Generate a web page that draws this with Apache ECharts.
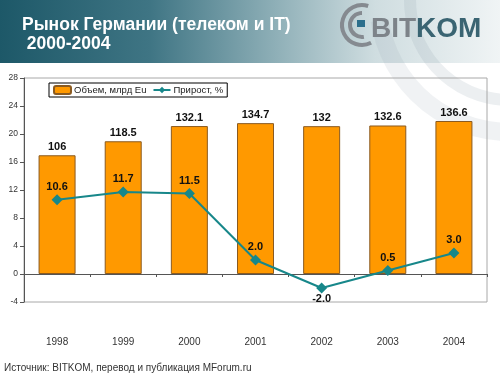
<!DOCTYPE html>
<html><head><meta charset="utf-8">
<script src="https://cdn.jsdelivr.net/npm/echarts@6/dist/echarts.min.js"></script>
<style>html,body{margin:0;padding:0;background:#fff}#c{width:500px;height:375px}</style>
</head><body><div id="c"></div>
<script>
// ---- data ----
const years = ['1998', '1999', '2000', '2001', '2002', '2003', '2004'];
const volume = [106, 118.5, 132.1, 134.7, 132, 132.6, 136.6];   // Объем, млрд Eu
const growth = [10.6, 11.7, 11.5, 2.0, -2.0, 0.5, 3.0];         // Прирост, %
const seriesNames = ['Объем, млрд Eu', 'Прирост, %'];
const titleLines = ['Рынок Германии (телеком и IT)', ' 2000-2004'];
const sourceText = 'Источник: BITKOM, перевод и публикация MForum.ru';
// left axis ticks: -4 .. 28 step 4 ; hidden bar axis uses same range scaled by 6.25
const yMin = -4, yMax = 28, yStep = 4, barScale = 6.25;

const FF = '"Liberation Sans", Arial, sans-serif';
const chart = echarts.init(document.getElementById('c'), null, {renderer: 'canvas'});

const option = {
  backgroundColor: '#fff',
  animation: false,
  textStyle: {fontFamily: FF},
  graphic: [
    {type: 'rect', z: -10, shape: {x: 0, y: 0, width: 500, height: 63},
     style: {fill: new echarts.graphic.LinearGradient(0, 0, 1, 0, [
       {offset: 0, color: '#1d5868'}, {offset: 0.3, color: '#3f7584'},
       {offset: 0.55, color: '#8eafb7'}, {offset: 0.75, color: '#cfdde0'},
       {offset: 1, color: '#f0f4f5'}])}},
    // watermark arcs
    {type: 'arc', z: -9, shape: {cx: 510, cy: 0, r: 100, startAngle: Math.PI * 0.45, endAngle: Math.PI * 1.0},
     style: {stroke: 'rgba(150,165,175,0.18)', lineWidth: 12, fill: 'none'}},
    {type: 'arc', z: -9, shape: {cx: 510, cy: 0, r: 132, startAngle: Math.PI * 0.40, endAngle: Math.PI * 0.95},
     style: {stroke: 'rgba(150,165,175,0.14)', lineWidth: 18, fill: 'none'}},
    // title
    {type: 'text', z: 10, style: {x: 22, y: 25, text: titleLines[0], font: 'bold 17.5px ' + FF, fill: '#fff', textVerticalAlign: 'middle'}},
    {type: 'text', z: 10, style: {x: 22, y: 44, text: titleLines[1], font: 'bold 17.5px ' + FF, fill: '#fff', textVerticalAlign: 'middle'}},
    // logo
    {type: 'arc', z: 10, shape: {cx: 362, cy: 25, r: 20, startAngle: Math.PI * 0.35, endAngle: Math.PI * 1.6},
     style: {stroke: '#858a90', lineWidth: 4, fill: 'none'}},
    {type: 'arc', z: 10, shape: {cx: 362, cy: 25, r: 12, startAngle: Math.PI * 0.45, endAngle: Math.PI * 1.5},
     style: {stroke: '#858a90', lineWidth: 4, fill: 'none'}},
    {type: 'rect', z: 10, shape: {x: 357, y: 20, width: 8, height: 7}, style: {fill: '#2c6f8c'}},
    {type: 'text', z: 10, style: {x: 371, y: 29, text: 'BIT', font: 'bold 28px ' + FF, fill: '#7d8389', textVerticalAlign: 'middle'}},
    {type: 'text', z: 10, style: {x: 416, y: 29, text: 'KOM', font: 'bold 28px ' + FF, fill: '#3a6472', textVerticalAlign: 'middle'}},
    // source
    {type: 'text', z: 10, style: {x: 4, y: 368, text: sourceText, font: '10px ' + FF, fill: '#333', textVerticalAlign: 'middle'}}
  ],
  legend: {
    left: 49, top: 83, orient: 'horizontal',
    data: seriesNames,
    padding: [2, 4], itemGap: 6, itemWidth: 17, itemHeight: 8,
    borderColor: '#000', borderWidth: 1, backgroundColor: '#fff',
    textStyle: {fontSize: 9.5, color: '#222', fontFamily: FF, padding: [0, 0, 0, -2]}
  },
  grid: {left: 24, right: 13, top: 78, bottom: 73, show: true, borderColor: '#a8a8a8', borderWidth: 1,
         backgroundColor: 'transparent', containLabel: false},
  xAxis: [
    {type: 'category', data: years, boundaryGap: true,
     axisLine: {onZero: true, lineStyle: {color: '#555', width: 1}},
     axisTick: {show: true, length: 3, lineStyle: {color: '#555'}},
     axisLabel: {show: false}, splitLine: {show: false}},
    {type: 'category', data: years, position: 'bottom', offset: 27, boundaryGap: true,
     axisLine: {show: false}, axisTick: {show: false},
     axisLabel: {fontSize: 10, color: '#333', fontFamily: FF}}
  ],
  yAxis: [
    {type: 'value', min: yMin, max: yMax, interval: yStep,
     axisLine: {show: true, lineStyle: {color: '#555'}},
     axisTick: {show: true, length: 4, lineStyle: {color: '#555'}},
     axisLabel: {fontSize: 8.5, color: '#333', margin: 6, fontFamily: FF},
     splitLine: {show: false}},
    {type: 'value', show: false, min: yMin * barScale, max: yMax * barScale, interval: yStep * barScale,
     splitLine: {show: false}}
  ],
  series: [
    {name: seriesNames[0], type: 'bar', xAxisIndex: 0, yAxisIndex: 1, data: volume,
     barWidth: 37,
     itemStyle: {color: '#ff9900', borderColor: '#8a5a20', borderWidth: 1},
     label: {show: true, position: 'top', distance: 3, fontSize: 11, fontWeight: 'bold', color: '#111', fontFamily: FF}},
    {name: seriesNames[1], type: 'line', xAxisIndex: 0, yAxisIndex: 0,
     data: growth.map(v => ({value: v, label: {position: v < 0 ? 'bottom' : 'top', distance: v < 0 ? 0 : 2}})),
     symbol: 'diamond', symbolSize: 11,
     lineStyle: {color: '#17878a', width: 2},
     itemStyle: {color: '#17878a'},
     label: {show: true, fontSize: 11, fontWeight: 'bold', color: '#111', fontFamily: FF,
             formatter: p => p.value.toFixed(1)}}
  ]
};
chart.setOption(option);
</script></body></html>
